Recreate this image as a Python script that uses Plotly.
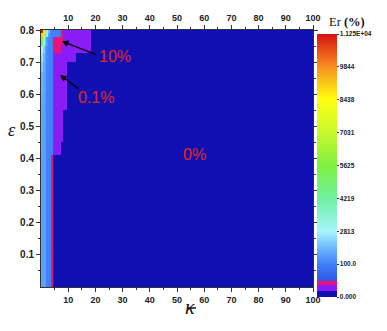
import numpy as np
import plotly.graph_objects as go

# ---- data ----
kappa_edges = [0, 0.8, 1.4, 2, 2.6, 3.3, 3.8, 4.4, 6, 7.4, 8.1, 9.4, 10.7, 13, 16, 18.5, 100]
eps_edges = [0, 0.41, 0.45, 0.5, 0.55, 0.6, 0.67, 0.7, 0.728, 0.75, 0.778, 0.79, 0.8]

D, V, M = 0.05, 0.5, 5.0
er_values = [
    [900, 900, 900, 150, 150, 150, M, D, D, D, D, D, D, D, D, D],
    [1000, 900, 800, 200, 150, 120, 100, V, V, D, D, D, D, D, D, D],
    [1000, 900, 800, 200, 150, 120, 100, V, V, V, D, D, D, D, D, D],
    [1000, 900, 800, 200, 150, 120, 100, V, V, V, D, D, D, D, D, D],
    [1100, 950, 800, 200, 150, 120, 100, V, V, V, V, D, D, D, D, D],
    [1300, 1000, 800, 200, 150, 120, 100, V, V, V, V, D, D, D, D, D],
    [1800, 1100, 800, 250, 150, 120, 100, V, V, V, V, D, D, D, D, D],
    [2300, 1400, 900, 300, 150, 120, 100, V, V, V, V, V, V, D, D, D],
    [2800, 1900, 1000, 350, 150, 120, 100, M, M, V, V, V, V, V, V, D],
    [5000, 3300, 1800, 700, 250, 150, 120, M, M, M, V, V, V, V, V, D],
    [9000, 7000, 4800, 2600, 800, 200, 150, 150, 150, M, V, V, V, V, V, D],
    [11200, 8600, 6200, 3600, 1500, 300, 150, 150, 150, M, V, V, V, V, V, D],
]

cbar_breaks = [0, 0.1, 1, 10, 100, 2813, 4219, 5625, 7031, 8438, 9844, 11250]
cbar_levels = [0, 0.19, 0.35, 0.5, 1, 2, 3, 4, 5, 6, 7, 8]
cbar_ticktext = ["0.000", "100.0", "2813", "4219", "5625", "7031", "8438", "9844", "1.125E+04"]
x_ticks = [10, 20, 30, 40, 50, 60, 70, 80, 90, 100]
y_ticks = [0.1, 0.2, 0.3, 0.4, 0.5, 0.6, 0.7, 0.8]

# map Er onto the (non-linear) colour-bar level axis
z_level = np.interp(np.array(er_values, dtype=float), cbar_breaks, cbar_levels)

dark, violet, magenta = "#1010b2", "#8a1cf5", "#e8147c"
cs = [
    [0.0, dark], [0.19 / 8, dark],
    [0.19 / 8, violet], [0.35 / 8, violet],
    [0.35 / 8, magenta], [0.5 / 8, magenta],
    [0.5 / 8, "#2d58e8"], [1 / 8, "#4080f8"], [1.5 / 8, "#70b8ff"],
    [2 / 8, "#a8f4ff"], [3 / 8, "#70f0a0"], [4 / 8, "#80f040"],
    [5 / 8, "#c8f830"], [6 / 8, "#ffff10"], [7 / 8, "#f89020"], [1.0, "#d81010"],
]

L, R, T, B = 41, 74, 30, 44
W, H = 387, 331
ph = H - T - B
pw = W - L - R

fig = go.Figure()
fig.add_trace(go.Heatmap(
    x=kappa_edges, y=eps_edges, z=z_level, zmin=0, zmax=8,
    colorscale=cs, zsmooth=False, hoverinfo="skip",
    colorbar=dict(
        tickvals=list(range(9)), ticktext=cbar_ticktext,
        thickness=20, thicknessmode="pixels",
        len=263, lenmode="pixels",
        x=(317 - L) / pw, xanchor="left", xpad=0,
        y=(H - B - 165.5) / ph, yanchor="middle", ypad=0,
        outlinewidth=0, ticks="outside", ticklen=2, tickcolor="#333",
        tickfont=dict(family="Arial", size=6.5, color="#222", weight="bold"),
    ),
))
# invisible trace to carry the top axis
fig.add_trace(go.Scatter(x=[0, 100], y=[0, 0], xaxis="x2", mode="markers",
                         marker=dict(opacity=0), showlegend=False, hoverinfo="skip"))

tickfont = dict(family="Arial", size=9, color="#222", weight="bold")
minor_x = dict(tickvals=[5, 15, 25, 35, 45, 55, 65, 75, 85, 95],
               ticks="outside", ticklen=2, tickcolor="#333")
fig.update_layout(
    template="none",
    width=W, height=H,
    margin=dict(l=L, r=R, t=T, b=B, autoexpand=False),
    paper_bgcolor="white", plot_bgcolor=dark,
    showlegend=False,
    xaxis=dict(range=[0, 100], tickvals=x_ticks, ticks="outside", ticklen=4,
               tickcolor="#333", showgrid=False, zeroline=False, automargin=False,
               showline=True, linecolor="#333", linewidth=1,
               tickfont=tickfont, minor=minor_x),
    xaxis2=dict(range=[0, 100], overlaying="x", side="top", matches="x",
                tickvals=x_ticks, ticks="outside", ticklen=4, tickcolor="#333",
                showgrid=False, zeroline=False, showline=True, linecolor="#333",
                automargin=False, tickfont=tickfont, minor=minor_x),
    yaxis=dict(range=[0, 0.8], tickvals=y_ticks, tickformat=".1f", ticks="outside",
               ticklen=4, tickcolor="#333", showgrid=False, zeroline=False,
               showline=True, linecolor="#333", mirror="ticks", automargin=False,
               tickfont=dict(family="Arial", size=10, color="#222", weight="bold"),
               minor=dict(tickvals=[0.05, 0.15, 0.25, 0.35, 0.45, 0.55, 0.65, 0.75],
                          ticks="outside", ticklen=2, tickcolor="#333")),
)


def px_to_paper(px, py):
    return (px - L) / pw, (H - B - py) / ph


red = "#e5261e"
ann = [
    dict(x=27.3, y=0.716, text="10%", showarrow=False,
         font=dict(family="Arial", size=16, color=red)),
    dict(x=20.2, y=0.589, text="0.1%", showarrow=False,
         font=dict(family="Arial", size=16, color=red)),
    dict(x=56.3, y=0.411, text="0%", showarrow=False,
         font=dict(family="Arial", size=16, color=red)),
    dict(x=7.7, y=0.765, ax=20.6, ay=0.722, axref="x", ayref="y", text="",
         showarrow=True, arrowhead=2, arrowsize=1, arrowwidth=1.3, arrowcolor="black"),
    dict(x=7.0, y=0.66, ax=14.3, ay=0.614, axref="x", ayref="y", text="",
         showarrow=True, arrowhead=2, arrowsize=1, arrowwidth=1.3, arrowcolor="black"),
]
for (px, py, txt, fnt, xa) in [
    (190, 319, "<i>κ</i>", dict(family="Liberation Serif", size=20, color="#111"), "center"),
    (12, 130, "<i>ε</i>", dict(family="Liberation Serif", size=18, color="#111"), "center"),
    (328, 14, "Er <b>(%)</b>", dict(family="Liberation Serif", size=12.5, color="#111"), "left"),
]:
    xp, yp = px_to_paper(px, py)
    ann.append(dict(x=xp, y=yp, xref="paper", yref="paper", text=txt, xanchor=xa,
                    borderpad=0, showarrow=False, font=fnt))
fig.update_layout(annotations=ann)

# macron over kappa
x0, y0 = px_to_paper(188, 308)
x1, _ = px_to_paper(196, 308)
fig.add_shape(type="line", xref="paper", yref="paper", x0=x0, x1=x1, y0=y0, y1=y0,
              line=dict(color="#111", width=1.5))

fig.write_html("out.html", config={"displayModeBar": False},
               post_script="document.body.style.margin='0px';")
